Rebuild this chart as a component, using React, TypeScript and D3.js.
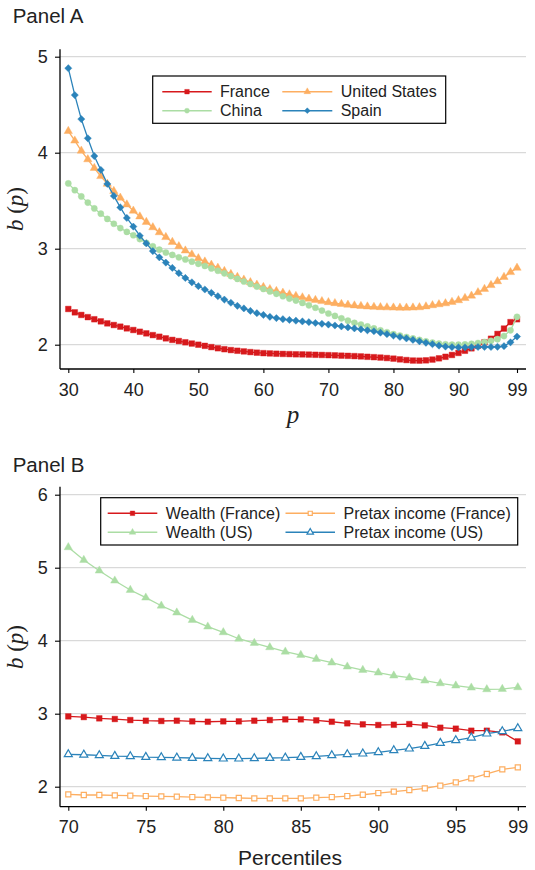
import React, { useRef, useEffect } from "react";
import * as d3 from "d3";

// ---- Panel A data: b(p) by percentile p = 30..99 ----
const PCT_A = d3.range(30, 100);
const FRANCE_A = [
  2.372, 2.337, 2.31, 2.287, 2.265, 2.243, 2.222, 2.205, 2.188, 2.17,
  2.153, 2.135, 2.118, 2.1, 2.083, 2.066, 2.05, 2.038, 2.025, 2.012,
  2.0, 1.988, 1.975, 1.963, 1.953, 1.944, 1.937, 1.93, 1.923, 1.917,
  1.912, 1.909, 1.906, 1.904, 1.902, 1.9, 1.899, 1.897, 1.895, 1.893,
  1.891, 1.889, 1.886, 1.884, 1.881, 1.878, 1.874, 1.87, 1.866, 1.861,
  1.855, 1.847, 1.84, 1.835, 1.834, 1.837, 1.845, 1.858, 1.874, 1.893,
  1.914, 1.937, 1.962, 1.99, 2.025, 2.062, 2.112, 2.168, 2.235, 2.265,
];
const US_A = [
  4.225, 4.125, 4.02, 3.93, 3.84, 3.755, 3.675, 3.6, 3.53, 3.46,
  3.395, 3.335, 3.278, 3.222, 3.17, 3.12, 3.07, 3.025, 2.98, 2.94,
  2.9, 2.865, 2.832, 2.8, 2.767, 2.735, 2.705, 2.677, 2.65, 2.624,
  2.6, 2.578, 2.558, 2.54, 2.523, 2.507, 2.492, 2.478, 2.465, 2.453,
  2.442, 2.432, 2.423, 2.415, 2.408, 2.402, 2.397, 2.393, 2.39, 2.388,
  2.386, 2.385, 2.385, 2.386, 2.389, 2.398, 2.41, 2.42, 2.43, 2.445,
  2.462, 2.485, 2.51, 2.545, 2.58, 2.62, 2.66, 2.705, 2.755, 2.8,
];
const CHINA_A = [
  3.68, 3.61, 3.545, 3.48, 3.42, 3.365, 3.31, 3.26, 3.215, 3.175,
  3.14, 3.1, 3.06, 3.025, 2.99, 2.96, 2.935, 2.91, 2.888, 2.865,
  2.842, 2.82, 2.795, 2.77, 2.743, 2.715, 2.685, 2.658, 2.632, 2.605,
  2.58, 2.555, 2.53, 2.505, 2.48, 2.46, 2.435, 2.41, 2.385, 2.355,
  2.325, 2.3, 2.275, 2.25, 2.228, 2.21, 2.19, 2.17, 2.15, 2.13,
  2.11, 2.095, 2.08, 2.065, 2.05, 2.035, 2.022, 2.012, 2.005, 2.0,
  2.0, 2.003, 2.01, 2.018, 2.028, 2.04, 2.058, 2.09, 2.15, 2.29,
];
const SPAIN_A = [
  4.88, 4.6, 4.35, 4.15, 3.965, 3.82, 3.675, 3.55, 3.43, 3.32,
  3.23, 3.135, 3.055, 2.975, 2.91, 2.855, 2.8, 2.745, 2.695, 2.65,
  2.61, 2.575, 2.54, 2.505, 2.47, 2.437, 2.405, 2.378, 2.352, 2.328,
  2.31, 2.29, 2.277, 2.266, 2.258, 2.25, 2.242, 2.235, 2.226, 2.218,
  2.21, 2.2, 2.19, 2.18, 2.17, 2.16, 2.15, 2.14, 2.125, 2.11,
  2.095, 2.08, 2.065, 2.05, 2.035, 2.02, 2.005, 1.99, 1.98, 1.975,
  1.972, 1.972, 1.974, 1.976, 1.976, 1.976, 1.978, 1.985, 2.025, 2.085,
];
const X_TICKS_A = [30, 40, 50, 60, 70, 80, 90, 99];
const Y_TICKS_A = [2, 3, 4, 5];

// ---- Panel B data: percentiles 70..99 ----
const PCT_B = d3.range(70, 100);
const WEALTH_FR_B = [
  2.963, 2.954, 2.936, 2.927, 2.913, 2.904, 2.9, 2.904, 2.895, 2.89,
  2.895, 2.895, 2.904, 2.913, 2.922, 2.922, 2.909, 2.89, 2.868, 2.854,
  2.845, 2.849, 2.858, 2.84, 2.808, 2.795, 2.767, 2.767, 2.744, 2.621,
];
const PRETAX_FR_B = [
  1.895, 1.886, 1.886, 1.881, 1.877, 1.872, 1.868, 1.863, 1.858, 1.854,
  1.849, 1.845, 1.84, 1.84, 1.84, 1.84, 1.849, 1.858, 1.872, 1.89,
  1.913, 1.932, 1.954, 1.977, 2.014, 2.059, 2.114, 2.174, 2.237, 2.265,
];
const WEALTH_US_B = [
  5.279, 5.105, 4.959, 4.822, 4.694, 4.589, 4.479, 4.384, 4.283, 4.192,
  4.114, 4.027, 3.968, 3.909, 3.849, 3.804, 3.749, 3.699, 3.644, 3.598,
  3.562, 3.521, 3.493, 3.452, 3.416, 3.384, 3.356, 3.333, 3.338, 3.361,
];
const PRETAX_US_B = [
  2.443, 2.438, 2.429, 2.42, 2.416, 2.406, 2.402, 2.397, 2.393, 2.388,
  2.384, 2.384, 2.388, 2.393, 2.397, 2.406, 2.416, 2.429, 2.443, 2.452,
  2.47, 2.498, 2.521, 2.557, 2.598, 2.635, 2.671, 2.726, 2.758, 2.799,
];
const X_TICKS_B = [70, 75, 80, 85, 90, 95, 99];
const Y_TICKS_B = [2, 3, 4, 5, 6];

const RED = "#d7191c";
const ORANGE = "#fdae61";
const GREEN = "#abdda4";
const BLUE = "#2b83ba";
const SANS = "'Liberation Sans', Arial, Helvetica, sans-serif";
const SERIF = "'Liberation Serif', 'Times New Roman', serif";
const TEXT = "#222";

const AX_LEFT = 60;
const AX_RIGHT = 526;

type Marker = "square" | "circle" | "triangle" | "diamond";

interface Series {
  label: string;
  values: number[];
  color: string;
  marker: Marker;
  filled: boolean;
  size: number;
}

interface PanelCfg {
  title: string;
  titleY: number;
  pct: number[];
  x: d3.ScaleLinear<number, number>;
  y: d3.ScaleLinear<number, number>;
  xTicks: number[];
  yTicks: number[];
  axisTop: number;
  axisBottom: number;
  series: Series[];
  legendBox: [number, number, number, number];
  legendRows: number[];
  legendCols: { x1: number; x2: number; tx: number }[];
  legendOrder: number[]; // series index by slot (row-major)
  yLabelY: number;
  drawXLabel: (g: d3.Selection<SVGGElement, unknown, null, undefined>) => void;
}

function markerPath(kind: Marker, size: number) {
  if (kind === "circle") return d3.symbol().type(d3.symbolCircle).size(size)() || "";
  if (kind === "triangle") return d3.symbol().type(d3.symbolTriangle).size(size)() || "";
  return d3.symbol().type(d3.symbolSquare).size(size)() || "";
}

function drawMarker(
  g: d3.Selection<SVGGElement, unknown, null, undefined>,
  s: Series,
  cx: number,
  cy: number,
  size: number
) {
  g.append("path")
    .attr("d", markerPath(s.marker, size))
    .attr(
      "transform",
      `translate(${cx},${cy})${s.marker === "diamond" ? " rotate(45)" : ""}`
    )
    .attr("fill", s.filled ? s.color : "#fff")
    .attr("stroke", s.color)
    .attr("stroke-width", s.filled ? 0.4 : 1.2);
}

function drawPanel(
  svg: d3.Selection<SVGSVGElement, unknown, null, undefined>,
  cfg: PanelCfg
) {
  const { x, y } = cfg;
  const g = svg.append("g");

  // Title
  g.append("text")
    .attr("x", 12.7)
    .attr("y", cfg.titleY)
    .attr("font-family", SANS)
    .attr("font-size", 20.5)
    .attr("fill", TEXT)
    .text(cfg.title);

  // Gridlines
  g.selectAll("line.grid")
    .data(cfg.yTicks)
    .join("line")
    .attr("class", "grid")
    .attr("x1", AX_LEFT)
    .attr("x2", AX_RIGHT)
    .attr("y1", (d) => y(d))
    .attr("y2", (d) => y(d))
    .attr("stroke", "#d9d9d9")
    .attr("stroke-width", 1.2);

  // X axis
  const xa = g
    .append("g")
    .attr("transform", `translate(0,${cfg.axisBottom})`)
    .call(
      d3.axisBottom(x).tickValues(cfg.xTicks).tickSize(4).tickFormat(d3.format("d"))
    );
  xa.select(".domain").remove();
  xa.attr("font-family", SANS).attr("font-size", 18);
  xa.selectAll("line").attr("stroke", "#000").attr("stroke-width", 1.1);
  xa.selectAll("text").attr("y", 26.7).attr("dy", 0).attr("fill", TEXT);

  // Y axis
  const ya = g
    .append("g")
    .attr("transform", `translate(${AX_LEFT},0)`)
    .call(
      d3.axisLeft(y).tickValues(cfg.yTicks).tickSize(5).tickPadding(7.3).tickFormat(d3.format("d"))
    );
  ya.select(".domain").remove();
  ya.attr("font-family", SANS).attr("font-size", 18);
  ya.selectAll("line").attr("stroke", "#000").attr("stroke-width", 1.1);
  ya.selectAll("text").attr("fill", TEXT);

  // Axis lines
  g.append("line")
    .attr("x1", AX_LEFT)
    .attr("x2", AX_RIGHT)
    .attr("y1", cfg.axisBottom)
    .attr("y2", cfg.axisBottom)
    .attr("stroke", "#000")
    .attr("stroke-width", 1.3);
  g.append("line")
    .attr("x1", AX_LEFT)
    .attr("x2", AX_LEFT)
    .attr("y1", cfg.axisTop)
    .attr("y2", cfg.axisBottom)
    .attr("stroke", "#000")
    .attr("stroke-width", 1.3);

  // Series
  cfg.series.forEach((s) => {
    const line = d3
      .line<number>()
      .x((_, i) => x(cfg.pct[i]))
      .y((d) => y(d));
    g.append("path")
      .attr("d", line(s.values) || "")
      .attr("fill", "none")
      .attr("stroke", s.color)
      .attr("stroke-width", 1.3);
    s.values.forEach((v, i) => drawMarker(g, s, x(cfg.pct[i]), y(v), s.size));
  });

  // Legend
  const [bx, by, bw, bh] = cfg.legendBox;
  g.append("rect")
    .attr("x", bx)
    .attr("y", by)
    .attr("width", bw)
    .attr("height", bh)
    .attr("fill", "#fff")
    .attr("stroke", "#000")
    .attr("stroke-width", 1.2);
  cfg.legendOrder.forEach((si, slot) => {
    const s = cfg.series[si];
    const ry = cfg.legendRows[Math.floor(slot / 2)];
    const col = cfg.legendCols[slot % 2];
    g.append("line")
      .attr("x1", col.x1)
      .attr("x2", col.x2)
      .attr("y1", ry)
      .attr("y2", ry)
      .attr("stroke", s.color)
      .attr("stroke-width", 1.4);
    drawMarker(g, s, (col.x1 + col.x2) / 2, ry, s.size * 0.65);
    g.append("text")
      .attr("x", col.tx)
      .attr("y", ry + 5.7)
      .attr("font-family", SANS)
      .attr("font-size", 16)
      .attr("fill", TEXT)
      .text(s.label);
  });

  // Y label: b (p)
  const yl = g
    .append("text")
    .attr("transform", `translate(23,${cfg.yLabelY}) rotate(-90)`)
    .attr("text-anchor", "middle")
    .attr("font-family", SERIF)
    .attr("font-size", 23)
    .attr("fill", TEXT);
  yl.append("tspan").attr("font-style", "italic").text("b");
  yl.append("tspan").text(" (");
  yl.append("tspan").attr("font-style", "italic").text("p");
  yl.append("tspan").text(")");

  cfg.drawXLabel(g);
}

export default function App() {
  const svgRef = useRef<SVGSVGElement>(null);

  useEffect(() => {
    if (!svgRef.current) return;
    const svg = d3.select(svgRef.current);
    svg.selectAll("*").remove();

    const xA = d3.scaleLinear().domain([30, 99]).range([68.3, 517]);
    const yA = d3.scaleLinear().domain([2, 5]).range([344.7, 56.7]);
    const xB = d3.scaleLinear().domain([70, 99]).range([68.3, 517.8]);
    const yB = d3.scaleLinear().domain([2, 6]).range([786.7, 494.7]);

    drawPanel(svg, {
      title: "Panel A",
      titleY: 22.7,
      pct: PCT_A,
      x: xA,
      y: yA,
      xTicks: X_TICKS_A,
      yTicks: Y_TICKS_A,
      axisTop: 49.3,
      axisBottom: 369,
      series: [
        { label: "France", values: FRANCE_A, color: RED, marker: "square", filled: true, size: 32 },
        { label: "United States", values: US_A, color: ORANGE, marker: "triangle", filled: true, size: 30 },
        { label: "China", values: CHINA_A, color: GREEN, marker: "circle", filled: true, size: 30 },
        { label: "Spain", values: SPAIN_A, color: BLUE, marker: "diamond", filled: true, size: 26 },
      ],
      legendBox: [152.7, 76, 293, 47.3],
      legendRows: [91.7, 110.7],
      legendCols: [
        { x1: 162.3, x2: 211.7, tx: 220 },
        { x1: 282.3, x2: 332.3, tx: 340.7 },
      ],
      legendOrder: [0, 1, 2, 3],
      yLabelY: 209,
      drawXLabel: (g) => {
        g.append("text")
          .attr("x", 293)
          .attr("y", 423)
          .attr("text-anchor", "middle")
          .attr("font-family", SERIF)
          .attr("font-style", "italic")
          .attr("font-size", 25)
          .attr("fill", TEXT)
          .text("p");
      },
    });

    drawPanel(svg, {
      title: "Panel B",
      titleY: 472,
      pct: PCT_B,
      x: xB,
      y: yB,
      xTicks: X_TICKS_B,
      yTicks: Y_TICKS_B,
      axisTop: 486.7,
      axisBottom: 806.7,
      series: [
        { label: "Wealth (France)", values: WEALTH_FR_B, color: RED, marker: "square", filled: true, size: 32 },
        { label: "Pretax income (France)", values: PRETAX_FR_B, color: ORANGE, marker: "square", filled: false, size: 26 },
        { label: "Wealth (US)", values: WEALTH_US_B, color: GREEN, marker: "triangle", filled: true, size: 30 },
        { label: "Pretax income (US)", values: PRETAX_US_B, color: BLUE, marker: "triangle", filled: false, size: 28 },
      ],
      legendBox: [100.7, 497.7, 417, 47.3],
      legendRows: [513.3, 532.3],
      legendCols: [
        { x1: 107.7, x2: 157.3, tx: 165.8 },
        { x1: 285.5, x2: 335, tx: 343.6 },
      ],
      legendOrder: [0, 1, 2, 3],
      yLabelY: 647,
      drawXLabel: (g) => {
        g.append("text")
          .attr("x", 290)
          .attr("y", 865)
          .attr("text-anchor", "middle")
          .attr("font-family", SANS)
          .attr("font-size", 21)
          .attr("fill", TEXT)
          .text("Percentiles");
      },
    });
  }, []);

  return (
    <svg
      ref={svgRef}
      width={535}
      height={870}
      style={{ position: "absolute", left: 0, top: 0, background: "#fff" }}
    />
  );
}
